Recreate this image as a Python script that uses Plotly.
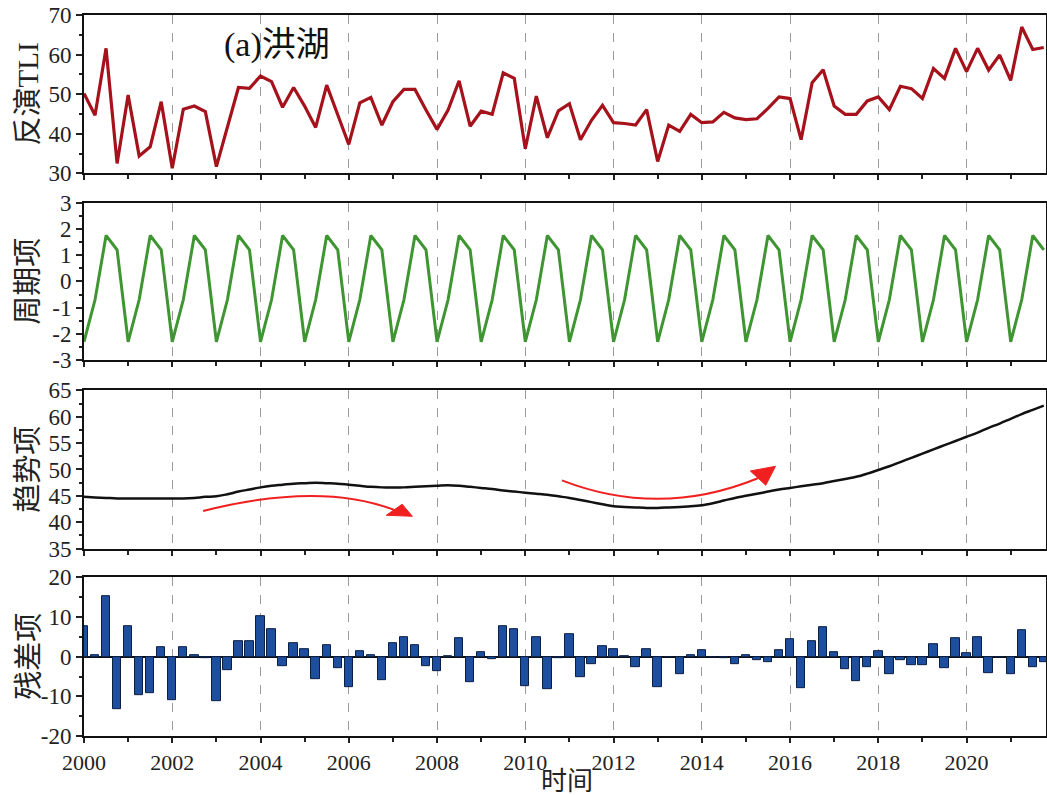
import plotly.graph_objects as go
from plotly.subplots import make_subplots

# quarterly time stamps 2000Q1 .. 2021Q4
time = [2000 + 0.25 * i for i in range(88)]

tli = [50.2, 44.7, 61.6, 32.5, 49.8, 34.4, 36.7, 48.1, 31.3, 46.2, 47.0, 45.6,
       31.7, 41.5, 51.7, 51.5, 54.6, 53.2, 46.7, 51.7, 47.0, 41.6, 52.3, 44.8,
       37.3, 47.8, 49.2, 42.2, 48.1, 51.2, 51.2, 46.0, 41.1, 46.0, 53.4, 41.9,
       45.7, 44.9, 55.4, 54.0, 36.2, 49.5, 39.0, 45.8, 47.6, 38.5, 43.4, 47.2,
       42.8, 42.6, 42.2, 46.1, 33.0, 42.2, 40.6, 44.9, 42.8, 43.0, 45.4, 44.0,
       43.6, 43.8, 46.4, 49.3, 48.9, 38.5, 52.9, 56.2, 47.0, 44.9, 44.9, 48.3,
       49.3, 46.1, 52.0, 51.4, 48.9, 56.5, 54.0, 61.6, 55.7, 61.6, 56.1, 59.9,
       53.5, 67.0, 61.3, 61.8]

seasonal = [-2.3, -0.7, 1.75, 1.2, -2.3, -0.7, 1.75, 1.2, -2.3, -0.7, 1.75, 1.2,
            -2.3, -0.7, 1.75, 1.2, -2.3, -0.7, 1.75, 1.2, -2.3, -0.7, 1.75, 1.2,
            -2.3, -0.7, 1.75, 1.2, -2.3, -0.7, 1.75, 1.2, -2.3, -0.7, 1.75, 1.2,
            -2.3, -0.7, 1.75, 1.2, -2.3, -0.7, 1.75, 1.2, -2.3, -0.7, 1.75, 1.2,
            -2.3, -0.7, 1.75, 1.2, -2.3, -0.7, 1.75, 1.2, -2.3, -0.7, 1.75, 1.2,
            -2.3, -0.7, 1.75, 1.2, -2.3, -0.7, 1.75, 1.2, -2.3, -0.7, 1.75, 1.2,
            -2.3, -0.7, 1.75, 1.2, -2.3, -0.7, 1.75, 1.2, -2.3, -0.7, 1.75, 1.2,
            -2.3, -0.7, 1.75, 1.2]

trend = [44.8, 44.7, 44.6, 44.5, 44.5, 44.5, 44.5, 44.5, 44.5, 44.5, 44.6, 44.8,
         44.9, 45.3, 45.8, 46.2, 46.6, 46.9, 47.1, 47.3, 47.4, 47.5, 47.4, 47.3,
         47.1, 46.9, 46.7, 46.6, 46.6, 46.6, 46.7, 46.8, 46.9, 47.0, 46.9, 46.7,
         46.5, 46.3, 46.0, 45.8, 45.6, 45.4, 45.2, 44.9, 44.6, 44.2, 43.8, 43.4,
         43.0, 42.9, 42.8, 42.7, 42.7, 42.8, 42.9, 43.0, 43.2, 43.6, 44.1, 44.6,
         45.0, 45.4, 45.8, 46.2, 46.5, 46.8, 47.1, 47.4, 47.8, 48.2, 48.6, 49.2,
         49.9, 50.6, 51.4, 52.2, 53.0, 53.8, 54.6, 55.4, 56.2, 57.0, 57.9, 58.7,
         59.6, 60.5, 61.3, 62.1]

resid = [7.8, 0.3, 15.3, -13.2, 7.7, -9.7, -9.2, 2.5, -10.9, 2.3, 0.3, -0.4,
         -11.1, -3.5, 4.0, 3.8, 10.2, 7.0, -2.3, 3.3, 2.0, -5.6, 3.0, -2.8,
         -7.7, 1.4, 0.5, -5.8, 3.5, 5.0, 2.8, -2.3, -3.7, 0.1, 4.7, -6.4,
         1.2, -0.6, 7.6, 6.9, -7.5, 4.9, -8.1, -0.3, 5.7, -5.2, -1.8, 2.6,
         1.8, 0.2, -2.6, 2.0, -7.6, 0.0, -4.3, 0.4, 1.6, 0.0, -0.3, -1.8,
         0.5, -0.8, -1.3, 1.7, 4.5, -7.9, 3.8, 7.3, 1.1, -3.1, -6.2, -2.7,
         1.4, -4.3, -1.0, -2.2, -2.1, 3.2, -3.0, 4.6, 1.0, 5.0, -4.1, 0.0,
         -4.5, 6.7, -2.6, -1.5]

x_ticks = [2000, 2002, 2004, 2006, 2008, 2010, 2012, 2014, 2016, 2018, 2020]
y_ticks = [[30, 40, 50, 60, 70],
           [-3, -2, -1, 0, 1, 2, 3],
           [35, 40, 45, 50, 55, 60, 65],
           [-20, -10, 0, 10, 20]]
y_titles = ["反演TLI", "周期项", "趋势项", "残差项"]
panel_label = "(a)洪湖"
x_title = "时间"

LAT = "Liberation Serif"
CJK = "Liberation Serif, Noto Sans CJK SC"

fig = make_subplots(rows=4, cols=1, shared_xaxes=True)

fig.add_trace(go.Scatter(x=time, y=tli, mode="lines",
                         line=dict(color="#a5121b", width=3.2)), row=1, col=1)
fig.add_trace(go.Scatter(x=time, y=seasonal, mode="lines",
                         line=dict(color="#3f9532", width=3)), row=2, col=1)
fig.add_trace(go.Scatter(x=time, y=trend, mode="lines", line_shape="spline",
                         line=dict(color="#111111", width=2.5)), row=3, col=1)
fig.add_trace(go.Bar(x=time, y=resid, width=0.19,
                     marker=dict(color="#1d4f9e", line=dict(color="#0b1f45", width=1))),
              row=4, col=1)

domains = [(0.782, 0.981), (0.547, 0.745), (0.310, 0.509), (0.074, 0.274)]
yranges = [(30, 70), (-3, 3), (35, 65), (-20, 20)]
yminor = [5, 0.5, 2.5, 5]

for i in range(4):
    xa = "xaxis" if i == 0 else f"xaxis{i+1}"
    ya = "yaxis" if i == 0 else f"yaxis{i+1}"
    fig.layout[xa].update(
        range=[2000, 2021.8], tickvals=x_ticks, ticktext=[str(v) for v in x_ticks],
        showticklabels=(i == 3), automargin=False,
        ticks="outside", ticklen=5, tickwidth=1.5, tickcolor="#222",
        minor=dict(dtick=1, tick0=2000, ticks="outside", ticklen=4, tickcolor="#222", showgrid=False),
        showgrid=True, gridcolor="#9a9a9a", griddash="dash", gridwidth=1,
        showline=True, linecolor="#111", linewidth=2, mirror=True, zeroline=False,
        tickfont=dict(family=LAT, size=22, color="#222"))
    fig.layout[ya].update(
        domain=list(domains[i]), range=list(yranges[i]), automargin=False,
        tickvals=y_ticks[i], ticktext=[str(v) for v in y_ticks[i]],
        ticks="outside", ticklen=6, tickwidth=1.5, tickcolor="#222",
        minor=dict(dtick=yminor[i], ticks="outside", ticklen=3, tickcolor="#222", showgrid=False),
        showgrid=False, showline=True, linecolor="#111", linewidth=2, mirror=True,
        zeroline=(i == 3), zerolinecolor="#111", zerolinewidth=2,
        tickfont=dict(family=LAT, size=23, color="#222"))

annotations = []
title_y = [0.8815, 0.646, 0.4095, 0.174]
for t, yy in zip(y_titles, title_y):
    annotations.append(dict(text=t, xref="paper", yref="paper", x=-0.058, y=yy,
                            xanchor="center", yanchor="middle", textangle=-90,
                            showarrow=False, font=dict(family=CJK, size=29, color="#222")))
annotations.append(dict(text=panel_label, xref="paper", yref="paper", x=0.143, y=0.943,
                        xanchor="left", yanchor="middle", showarrow=False,
                        font=dict(family=CJK, size=34, color="#111")))
annotations.append(dict(text=x_title, xref="paper", yref="paper", x=0.502, y=-0.004,
                        xanchor="center", yanchor="bottom", showarrow=False,
                        font=dict(family=CJK, size=26, color="#222")))

RED = "#f02020"
shapes = [
    dict(type="path", xref="x3", yref="y3",
         path="M 2002.70,42.13 Q 2005.34,47.70 2007.02,42.35",
         line=dict(color=RED, width=2)),
    dict(type="path", xref="x3", yref="y3",
         path="M 2006.85,41.31 L 2007.21,43.40 L 2007.44,41.12 Z",
         fillcolor=RED, line=dict(color=RED, width=1)),
    dict(type="path", xref="x3", yref="y3",
         path="M 2010.83,47.94 Q 2013.05,40.74 2015.27,48.34",
         line=dict(color=RED, width=2)),
    dict(type="path", xref="x3", yref="y3",
         path="M 2015.10,49.71 L 2015.45,47.00 L 2015.67,50.60 Z",
         fillcolor=RED, line=dict(color=RED, width=1)),
]

fig.update_layout(width=1047, height=795, showlegend=False,
                  margin=dict(l=84, r=1, t=0, b=0, autoexpand=False),
                  plot_bgcolor="white", paper_bgcolor="white",
                  annotations=annotations, shapes=shapes, bargap=0)

fig.write_html("out.html")
